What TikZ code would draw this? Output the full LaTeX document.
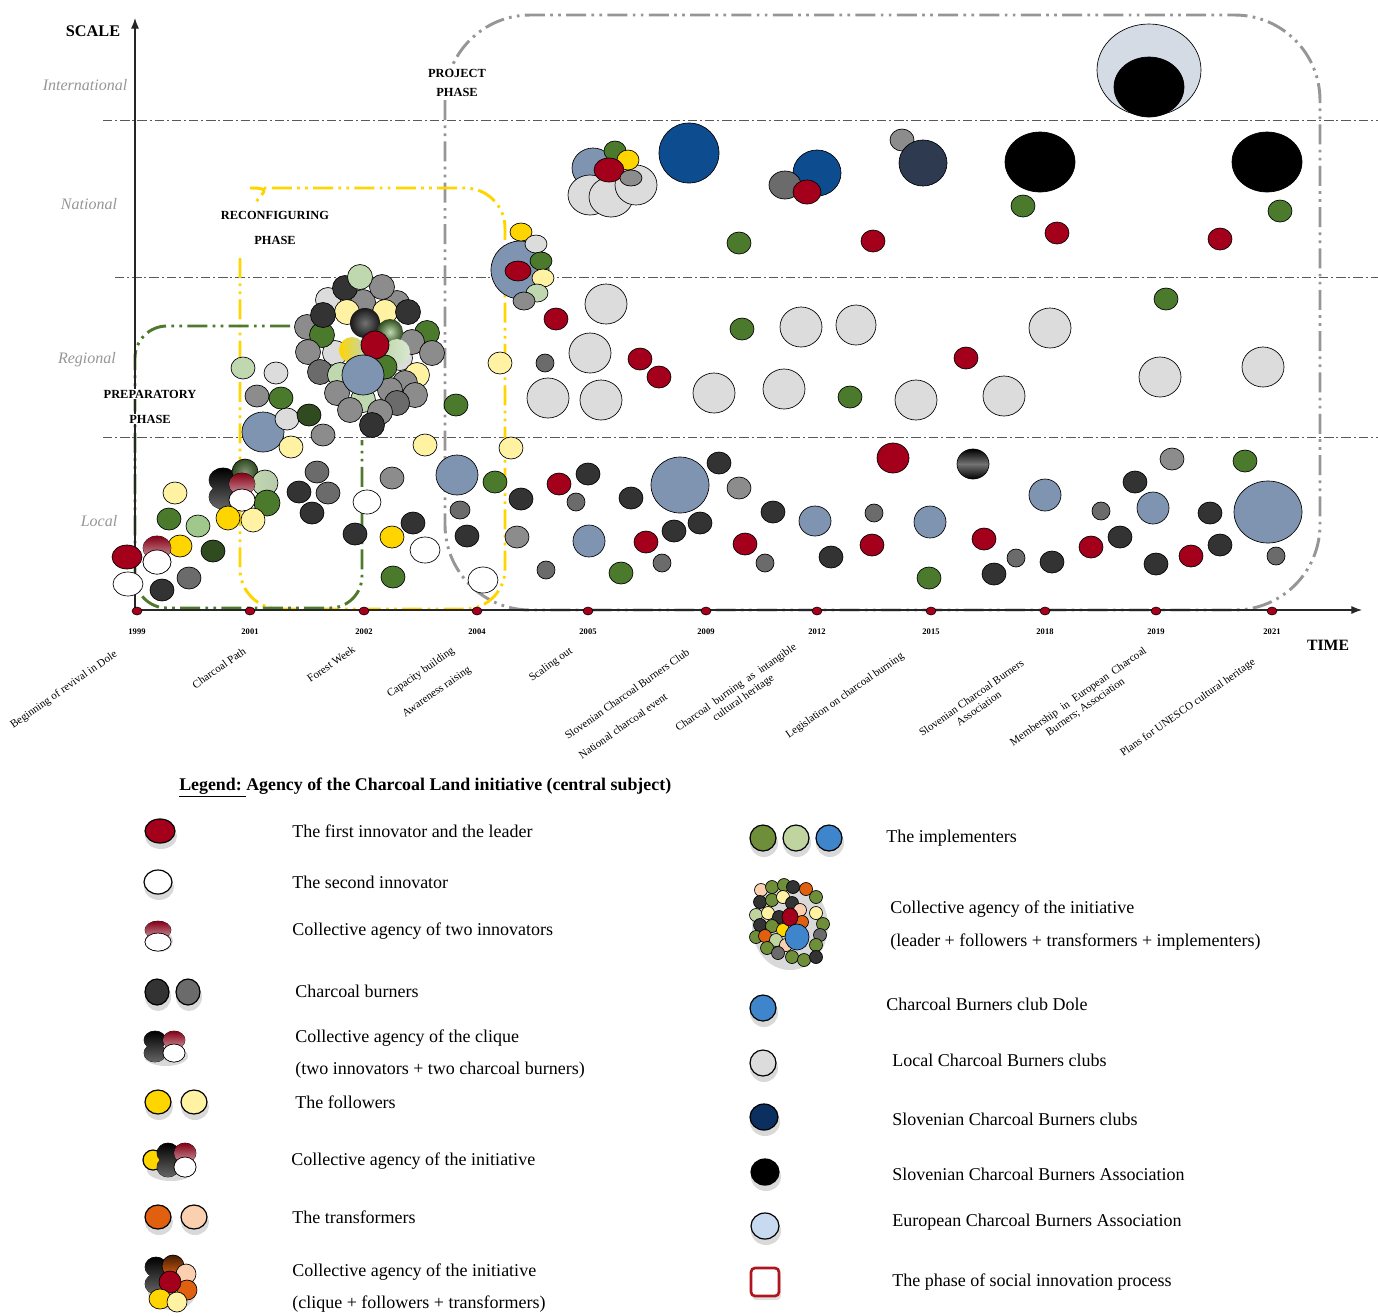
\documentclass[tikz,border=0pt]{standalone}
\usepackage{fontspec}
\setmainfont{Liberation Serif}
\usepackage{tikz}
\usetikzlibrary{arrows.meta}

\definecolor{leadred}{RGB}{165,0,27}
\definecolor{coaldark}{RGB}{51,51,51}
\definecolor{coalmid}{RGB}{107,107,107}
\definecolor{coallight}{RGB}{140,140,140}
\definecolor{clubgrey}{RGB}{220,220,220}
\definecolor{follow}{RGB}{255,213,0}
\definecolor{followlt}{RGB}{255,243,163}
\definecolor{impl}{RGB}{75,122,45}
\definecolor{impllt}{RGB}{192,216,176}
\definecolor{implmid}{RGB}{160,200,140}
\definecolor{impldk}{RGB}{47,75,31}
\definecolor{dole}{RGB}{127,148,176}
\definecolor{slovclub}{RGB}{14,76,144}
\definecolor{slovnavy}{RGB}{46,58,80}
\definecolor{euro}{RGB}{213,219,229}
\definecolor{lgimpl}{RGB}{110,142,58}
\definecolor{lgimpllt}{RGB}{192,212,160}
\definecolor{lgdole}{RGB}{62,133,204}
\definecolor{lgnavy}{RGB}{11,48,96}
\definecolor{lgeuro}{RGB}{200,218,240}
\definecolor{transf}{RGB}{224,96,16}
\definecolor{transflt}{RGB}{250,208,176}
\definecolor{phasered}{RGB}{176,21,31}
\definecolor{phasegreen}{RGB}{79,122,46}
\definecolor{phaseyellow}{RGB}{255,213,0}
\definecolor{phasegrey}{RGB}{150,150,150}
\definecolor{levelgrey}{RGB}{150,150,150}

\tikzset{
  blob/.style={draw=black, line width=0.5pt},
  lgblob/.style={draw=black, line width=0.9pt},
  axisline/.style={draw=black!85, line width=0.8pt, -{Latex[length=8pt,width=6pt]}},
  bandline/.style={draw=black!65, line width=0.7pt, dash pattern=on 7pt off 2.2pt on 1.5pt off 2.2pt},
  phaseline/.style={line width=2.2pt, dash pattern=on 15pt off 4pt on 2pt off 4pt on 2pt off 4pt},
  levellabel/.style={font=\itshape\fontsize{12}{14}\selectfont, text=levelgrey, inner sep=0.75pt},
  phaselabel/.style={font=\bfseries\fontsize{9.3}{11}\selectfont, inner sep=0.75pt},
  yearlabel/.style={font=\bfseries\fontsize{6.4}{7}\selectfont, inner sep=0.75pt},
  eventlabel/.style={font=\fontsize{8.3}{9.5}\selectfont, rotate=35, align=center, inner sep=0pt},
  legendtext/.style={font=\fontsize{13.5}{16}\selectfont, anchor=west, inner sep=0.75pt},
}

% two merged ellipses shaded top to bottom: x, y top, y bottom, rx, ry, top colour, bottom colour
\newcommand{\pairblob}[7]{%
  \draw[blob] (#1,#2) ellipse [x radius=#4, y radius=#5] (#1,#3) ellipse [x radius=#4, y radius=#5];
  \shade[top color=#6, bottom color=#7] (#1,#2) ellipse [x radius=#4, y radius=#5] (#1,#3) ellipse [x radius=#4, y radius=#5];}
% innovators: red top fading to white by the middle
\newcommand{\innopair}[5]{%
  \draw[blob] (#1,#2) ellipse [x radius=#4, y radius=#5] (#1,#3) ellipse [x radius=#4, y radius=#5];
  \shade[top color=leadred!80!black, middle color=white, bottom color=white] (#1,#2) ellipse [x radius=#4, y radius=#5] (#1,#3) ellipse [x radius=#4, y radius=#5];
  \draw[blob] (#1,#3) ellipse [x radius=#4, y radius=#5];
  \fill[white] (#1,#3) ellipse [x radius=#4-0.6, y radius=#5-0.6];}
% legend dot with soft shadow: x, y, rx, ry, colour
\newcommand{\lgdot}[5]{%
  \fill[black, opacity=0.15] (#1+1,#2+5) ellipse [x radius=#3+1, y radius=#4+1];
  \draw[lgblob, fill=#5] (#1,#2) ellipse [x radius=#3, y radius=#4];}

\begin{document}
\begin{tikzpicture}[x=0.75pt,y=0.75pt,yscale=-1,xscale=1]
\path[use as bounding box] (0,0) rectangle (1378,1315);

%Scale bands
\foreach \yy/\xs in {120/103, 277/115, 437/103}
  \draw[bandline] (\xs,\yy) -- (1378,\yy);

%Phases
\draw[phaseline, draw=phasegrey, rounded corners=64pt] (445,100) -- (445,610) -- (1320,610) -- (1320,15) -- (445,15) -- (445,100);
\draw[phaseline, draw=phaseyellow, rounded corners=30pt] (240,258) -- (240,609) -- (505,609) -- (505,188) -- (290,188) .. controls (272,188) and (263,192) .. (256,202);
\draw[phaseline, draw=phasegreen, rounded corners=24pt] (290,326) -- (135,326) -- (135,608) -- (362,608) -- (362,440);

%Axes
\coordinate (origin) at (135,610);
\coordinate (scaletop) at (135,18);
\coordinate (timeend) at (1362,610);
\draw[axisline] (origin) -- (scaletop);
\draw[axisline] (origin) -- (timeend);

% Text Node
\node[font=\bfseries\fontsize{12.2}{14}\selectfont, inner sep=0.75pt] (scale) at (93,31) {SCALE};
\node[font=\bfseries\fontsize{11.8}{14}\selectfont, inner sep=0.75pt] (time) at (1328,645) {TIME};
\node[levellabel] (intl) at (85,85) {International};
\node[levellabel] (natl) at (89,204) {National};
\node[levellabel] (regl) at (87,360) {Regional};
\node[levellabel] (locl) at (99,521) {Local};

% Text Node
\node[phaselabel, fill=white] (prep1) at (150,394) {PREPARATORY};
\node[phaselabel, fill=white] (prep2) at (150,419) {PHASE};
\node[phaselabel] (reco1) at (275,215) {RECONFIGURING};
\node[phaselabel] (reco2) at (275,240) {PHASE};
\node[phaselabel, fill=white, align=center, font=\bfseries\fontsize{9.3}{14}\selectfont] (proj) at (457,83) {PROJECT\\PHASE};

%Years on the time axis
\foreach \yr/\xx in {1999/137, 2001/250, 2002/364, 2004/477, 2005/588, 2009/706, 2012/817, 2015/931, 2018/1045, 2019/1156, 2021/1272} {
  \draw[blob, fill=leadred, line width=0.4pt] (\xx,611) ellipse [x radius=5, y radius=4];
  \node[yearlabel] (yr\yr) at (\xx,632) {\yr};
}

% Text Node
\node[eventlabel] (ev-dole) at (64,690) {Beginning of revival in Dole};
\node[eventlabel] (ev-path) at (219,668) {Charcoal Path};
\node[eventlabel] (ev-week) at (331,664) {Forest Week};
\node[eventlabel] (ev-capa) at (421,673) {Capacity building};
\node[eventlabel] (ev-aware) at (437,692) {Awareness raising};
\node[eventlabel] (ev-scale) at (551,665) {Scaling out};
\node[eventlabel] (ev-club) at (627,694) {Slovenian Charcoal Burners Club};
\node[eventlabel] (ev-event) at (623,726) {National charcoal event};
\node[eventlabel] (ev-herit) at (740,693) {Charcoal\ \ burning\ \ as\ \ intangible\\cultural heritage};
\node[eventlabel] (ev-law) at (845,696) {Legislation on charcoal burning};
\node[eventlabel] (ev-assoc) at (975,703) {Slovenian Charcoal Burners\\Association};
\node[eventlabel] (ev-euro) at (1082,702) {Membership\ \ in\ \ European\ \ Charcoal\\Burners; Association};
\node[eventlabel] (ev-unesco) at (1188,708) {Plans for UNESCO cultural heritage};

%Single actors
\foreach \cx/\cy/\rx/\ry/\c in {
  127/557/15/12/leadred, 128/584/15/12/white, 162/590/12/11/coaldark, 189/578/12/11/coalmid,
  175/493/12/11/followlt, 169/519/12/11/impl, 198/526/12/11/implmid, 180/546/12/11/follow, 213/551/12/11/impldk,
  317/472/12/11/coalmid, 299/492/12/11/coaldark, 328/493/12/11/coalmid, 312/513/12/11/coaldark,
  355/534/12/11/coaldark, 367/502/14/12/white, 392/478/12/11/coallight, 413/523/12/11/coaldark,
  392/537/12/11/follow, 425/550/15/13/white, 393/577/12/11/impl, 425/445/12/11/followlt,
  457/475/21/20/dole, 495/482/12/11/impl, 460/510/10/9/coalmid, 467/536/12/11/coaldark, 483/580/15/13/white,
  243/368/12/11/impllt, 276/373/12/11/clubgrey, 257/396/12/11/coallight, 281/398/12/11/impl,
  263/432/21/20/dole, 287/419/12/11/clubgrey, 309/415/12/11/impldk, 323/435/12/11/coallight, 291/447/12/11/followlt,
  456/405/12/11/impl, 511/448/12/11/followlt, 500/363/12/11/followlt, 545/363/9/9/coalmid,
  521/499/12/11/coaldark, 517/537/12/11/coallight, 546/570/9/9/coalmid, 559/484/12/11/leadred, 588/474/12/11/coaldark,
  576/502/9/9/coalmid, 589/541/16/16/dole, 631/498/12/11/coaldark, 621/573/12/11/impl, 646/542/12/11/leadred,
  674/531/12/11/coaldark, 662/563/9/9/coalmid, 680/485/29/28/dole, 700/523/12/11/coaldark, 719/463/12/11/coaldark,
  739/488/12/11/coallight, 773/512/12/11/coaldark, 745/544/12/11/leadred, 765/563/9/9/coalmid, 815/521/16/15/dole,
  831/557/12/11/coaldark, 874/513/9/9/coalmid, 872/545/12/11/leadred, 893/458/16/15/leadred,
  930/522/16/16/dole, 929/578/12/11/impl, 984/539/12/11/leadred, 1016/558/9/9/coalmid, 994/574/12/11/coaldark,
  1052/562/12/11/coaldark, 1045/495/16/16/dole, 1101/511/9/9/coalmid, 1135/482/12/11/coaldark, 1172/459/12/11/coallight,
  1153/508/16/16/dole, 1120/537/12/11/coaldark, 1091/547/12/11/leadred, 1156/564/12/11/coaldark, 1191/556/12/11/leadred,
  1210/513/12/11/coaldark, 1220/545/12/11/coaldark, 1245/461/12/11/impl, 1268/512/34/31/dole, 1276/556/9/9/coalmid,
  556/319/12/11/leadred, 606/304/21/20/clubgrey, 590/353/21/20/clubgrey, 548/398/21/20/clubgrey, 601/400/21/20/clubgrey,
  640/359/12/11/leadred, 659/377/12/11/leadred, 742/329/12/11/impl, 714/393/21/20/clubgrey, 784/389/21/20/clubgrey,
  801/327/21/20/clubgrey, 856/325/20/20/clubgrey, 850/397/12/11/impl, 916/400/21/20/clubgrey, 966/358/12/11/leadred,
  1004/396/21/20/clubgrey, 1050/328/21/20/clubgrey, 1166/299/12/11/impl, 1160/377/21/20/clubgrey, 1263/367/21/20/clubgrey,
  739/243/12/11/impl, 873/241/12/11/leadred, 1023/206/12/11/impl, 1057/233/12/11/leadred, 1280/211/12/11/impl,
  1220/239/12/11/leadred, 689/153/30/30/slovclub, 1040/162/35/30/black, 1267/162/35/30/black}
  \draw[blob, fill=\c] (\cx,\cy) ellipse [x radius=\rx, y radius=\ry];

%Collective agencies
\innopair{157}{548}{562}{14}{12}
\pairblob{223}{480}{497}{14}{12}{black}{black!60}
\shade[blob, inner color=impldk!60, outer color=impldk] (245,472) circle [radius=13];
\shade[blob, left color=impllt, right color=impl!40] (265,483) circle [radius=13];
\draw[blob, fill=impl] (267,503) circle [radius=13];
\draw[blob, fill=followlt] (253,520) circle [radius=12];
\innopair{242}{484}{500}{13}{11}
\draw[blob, fill=follow] (228,518) circle [radius=12];

\foreach \cx/\cy/\c in {335/353/clubgrey, 400/358/clubgrey, 328/300/clubgrey, 363/302/coallight, 397/303/coallight,
  382/287/coallight, 345/288/coaldark, 360/277/impllt, 307/327/coallight, 322/335/impl, 347/312/followlt,
  385/312/followlt, 323/315/coaldark, 408/312/coaldark, 427/333/impl, 412/342/coallight, 432/353/coallight,
  308/352/coallight, 320/372/coalmid, 340/375/impllt, 417/375/followlt, 405/383/coallight, 390/390/coallight,
  415/395/coallight, 337/393/coallight, 363/400/impllt, 350/410/coallight, 397/403/coalmid, 380/412/coallight,
  372/425/coaldark}
  \draw[blob, fill=\c] (\cx,\cy) circle [radius=12.5];
\shade[inner color=black!55, outer color=black!90] (365,323) circle [radius=15];
\shade[inner color=impllt, outer color=impldk] (390,332) circle [radius=13];
\shade[left color=follow, right color=impllt] (352,350) circle [radius=13];
\shade[left color=impllt, right color=impllt!60] (397,352) circle [radius=13];
\draw[blob, fill=impl] (385,367) circle [radius=12];
\draw[blob, fill=leadred] (375,345) circle [radius=14];
\draw[blob, fill=dole] (363,375) ellipse [x radius=21, y radius=20];

\foreach \cx/\cy/\rx/\ry/\c in {520/270/29/29/dole, 521/232/11/9/follow, 536/244/11/9/clubgrey, 541/261/11/9/impl,
  518/271/13/10/leadred, 543/278/11/9/followlt, 537/293/11/9/impllt, 524/301/11/9/coallight,
  593/168/21/20/dole, 590/195/22/20/clubgrey, 611/197/22/20/clubgrey, 636/185/21/20/clubgrey, 615/151/11/10/impl,
  628/160/11/10/follow, 609/170/15/12/leadred, 631/178/11/8/coallight,
  817/173/24/23/slovclub, 785/185/16/14/coalmid, 807/192/14/12/leadred,
  902/140/12/11/coallight, 923/163/24/23/slovnavy,
  1149/70/52/46/euro, 1149/87/35/30/black}
  \draw[blob, fill=\c] (\cx,\cy) ellipse [x radius=\rx, y radius=\ry];
\shade[blob, top color=black, bottom color=black, middle color=black!55] (973,464) ellipse [x radius=16, y radius=15];

%Legend
\node[font=\bfseries\fontsize{13.4}{15}\selectfont, anchor=west, inner sep=0.75pt] (lgtitle) at (178,787) {\underline{Legend:\ }Agency of the Charcoal Land initiative (central subject)};

\lgdot{160}{831}{15}{12}{leadred}
\lgdot{158}{882}{14}{12}{white}
\fill[black, opacity=0.15] (159,941) ellipse [x radius=14, y radius=11];
\innopair{158}{930}{942}{13}{9}
\lgdot{157}{992}{12}{13}{coaldark}
\lgdot{188}{992}{12}{13}{coalmid}
\fill[black, opacity=0.15] (166,1056) ellipse [x radius=22, y radius=10];
\pairblob{155}{1040}{1053}{11}{9}{black}{black!60}
\innopair{174}{1040}{1053}{11}{9}
\lgdot{158}{1102}{13}{12}{follow}
\lgdot{194}{1102}{13}{12}{followlt}
\fill[black, opacity=0.15] (171,1170) ellipse [x radius=24, y radius=11];
\draw[lgblob, fill=follow] (153,1160) circle [radius=10];
\pairblob{168}{1153}{1167}{11}{10}{black}{black!60}
\innopair{185}{1153}{1167}{11}{10}
\lgdot{158}{1217}{13}{12}{transf}
\lgdot{194}{1217}{13}{12}{transflt}
\fill[black, opacity=0.15] (172,1292) ellipse [x radius=24, y radius=18];
\pairblob{156}{1267}{1284}{11}{10}{black}{black!60}
\shade[blob, top color=black!70!transf, bottom color=transf] (173,1266) circle [radius=11];
\draw[blob, fill=transflt] (186,1274) circle [radius=10];
\draw[blob, fill=transf] (187,1290) circle [radius=10];
\draw[blob, fill=leadred] (170,1282) circle [radius=11];
\draw[blob, fill=follow] (160,1299) ellipse [x radius=11, y radius=10];
\draw[blob, fill=followlt] (177,1302) circle [radius=10];

\lgdot{763}{838}{13}{13}{lgimpl}
\lgdot{796}{838}{13}{13}{lgimpllt}
\lgdot{829}{838}{13}{13}{lgdole}
\fill[black, opacity=0.15] (790,926) ellipse [x radius=38, y radius=44];
\foreach \cx/\cy/\c in {761/890/transflt, 772/887/lgimpl, 784/885/lgimpl, 793/887/coaldark, 806/889/transf, 816/897/lgimpl,
  760/902/coaldark, 772/900/lgimpl, 783/897/followlt, 792/903/coaldark, 800/910/transflt, 816/913/followlt, 823/924/lgimpl,
  756/915/lgimpllt, 768/913/followlt, 779/917/coaldark, 802/922/transf,
  760/925/coaldark, 772/926/lgimpl, 783/930/follow, 820/935/coalmid,
  756/937/lgimpl, 765/936/transf, 776/940/lgimpllt, 786/945/transflt, 816/945/lgimpl,
  767/948/lgimpl, 778/953/coalmid, 792/957/lgimpl, 804/960/lgimpl, 816/957/coaldark}
  \draw[blob, fill=\c] (\cx,\cy) circle [radius=6.5];
\draw[blob, fill=leadred] (790,917) ellipse [x radius=8, y radius=9];
\draw[blob, fill=lgdole] (797,937) ellipse [x radius=12, y radius=13];

\lgdot{763}{1008}{13}{13}{lgdole}
\lgdot{763}{1063}{13}{13}{clubgrey}
\lgdot{764}{1117}{14}{13}{lgnavy}
\lgdot{765}{1172}{14}{13}{black}
\lgdot{765}{1226}{14}{13}{lgeuro}
\fill[black, opacity=0.12, rounded corners=3pt] (752,1272) rectangle (781,1300);
\draw[draw=phasered, line width=2pt, fill=white, rounded corners=3pt] (751,1268) rectangle (779,1296);

% Text Node
\node[legendtext] (lg-leader) at (291,831) {The first innovator and the leader};
\node[legendtext] (lg-second) at (291,882) {The second innovator};
\node[legendtext] (lg-two) at (291,931) {Collective agency of two innovators};
\node[legendtext] (lg-burn) at (294,991) {Charcoal burners};
\node[legendtext] (lg-clique) at (294,1038) {Collective agency of the clique};
\node[legendtext] (lg-clique2) at (294,1070) {(two innovators + two charcoal burners)};
\node[legendtext] (lg-follow) at (294,1102) {The followers};
\node[legendtext] (lg-init) at (290,1161) {Collective agency of the initiative};
\node[legendtext] (lg-transf) at (291,1217) {The transformers};
\node[legendtext] (lg-init2) at (291,1272) {Collective agency of the initiative};
\node[legendtext] (lg-init2b) at (291,1304) {(clique + followers + transformers)};
\node[legendtext] (lg-impl) at (885,838) {The implementers};
\node[legendtext] (lg-init3) at (889,909) {Collective agency of the initiative};
\node[legendtext] (lg-init3b) at (889,942) {(leader + followers + transformers + implementers)};
\node[legendtext] (lg-dole) at (885,1004) {Charcoal Burners club Dole};
\node[legendtext] (lg-local) at (891,1060) {Local Charcoal Burners clubs};
\node[legendtext] (lg-slclubs) at (891,1119) {Slovenian Charcoal Burners clubs};
\node[legendtext] (lg-slassoc) at (891,1174) {Slovenian Charcoal Burners Association};
\node[legendtext] (lg-euassoc) at (891,1222) {European Charcoal Burners Association};
\node[legendtext] (lg-phase) at (891,1282) {The phase of social innovation process};

\end{tikzpicture}
\end{document}
